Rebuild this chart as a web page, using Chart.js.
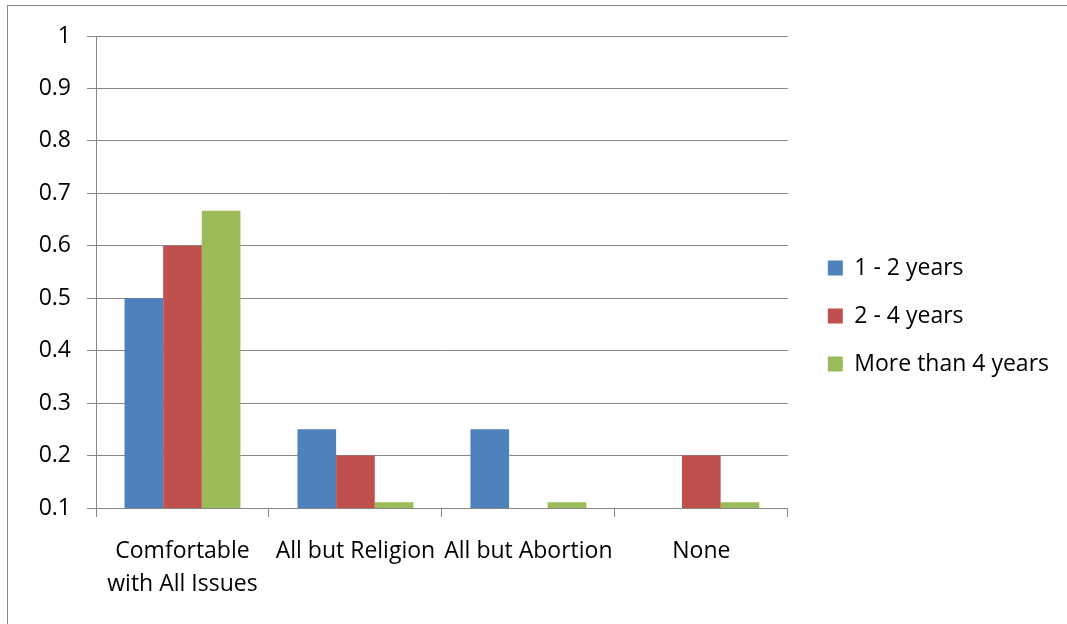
<!DOCTYPE html>
<html>
<head>
    <title>Comfort by Years</title>
    <script src="https://cdn.jsdelivr.net/npm/chart.js"></script>
    <style>
        body { margin: 0; background: #fff; }
        #wrap { position: relative; width: 1067px; height: 624px; overflow: hidden; }
        #frame { position: absolute; left: 7px; top: 5px; width: 1100px; height: 700px; border: 1px solid #868686; }
        #chart { position: absolute; left: 0; top: 0; }
    </style>
</head>
<body>
    <div id="wrap">
        <div id="frame"></div>
        <canvas id="chart" width="1067" height="624"></canvas>
    </div>

    <script>
        const categories = [['Comfortable', 'with All Issues'], 'All but Religion', 'All but Abortion', 'None'];
        const seriesNames = ['1 - 2 years', '2 - 4 years', 'More than 4 years'];
        const oneToTwo = [0.5, 0.25, 0.25, 0];
        const twoToFour = [0.6, 0.2, 0, 0.2];
        const moreThanFour = [0.667, 0.111, 0.111, 0.111];
        const colors = ['#4F81BD', '#C0504D', '#9BBB59'];

        const gridColor = '#868686';
        Chart.defaults.font.family = '"Open Sans", sans-serif';
        Chart.defaults.font.size = 23;
        Chart.defaults.color = '#000';

        const values = [oneToTwo, twoToFour, moreThanFour];

        // leave a small gap between the plot and the legend
        const legendGap = {
            id: 'legendGap',
            afterLayout(chart) {
                const lg = chart.legend;
                if (lg) { lg.left += 15; lg.right += 15; }
            }
        };

        const chart = new Chart(document.getElementById('chart'), {
            type: 'bar',
            data: {
                labels: categories,
                datasets: seriesNames.map((name, i) => ({
                    label: name,
                    data: values[i],
                    backgroundColor: colors[i],
                    borderWidth: 0,
                    categoryPercentage: 0.67,
                    barPercentage: 1,
                    clip: 0
                }))
            },
            options: {
                responsive: false,
                animation: false,
                layout: { padding: { top: 36, bottom: 28, left: 0, right: 23 } },
                plugins: {
                    tooltip: { enabled: false },
                    legend: {
                        position: 'right',
                        labels: { boxWidth: 15, boxHeight: 15, padding: 25, font: { size: 23 } }
                    }
                },
                scales: {
                    x: {
                        grid: { drawOnChartArea: false, drawTicks: true, tickLength: 9, color: gridColor },
                        border: { color: gridColor },
                        ticks: { padding: 18, maxRotation: 0, font: { size: 23, lineHeight: 1.43 } },
                        afterFit: s => { s.height = 88; }
                    },
                    y: {
                        min: 0.1,
                        max: 1,
                        ticks: {
                            stepSize: 0.1,
                            padding: 16,
                            callback: v => String(Math.round(v * 10) / 10)
                        },
                        grid: { color: gridColor, tickLength: 9 },
                        border: { color: gridColor },
                        afterFit: s => { s.width = 96; }
                    }
                }
            },
            plugins: [legendGap]
        });
    </script>
</body>
</html>
